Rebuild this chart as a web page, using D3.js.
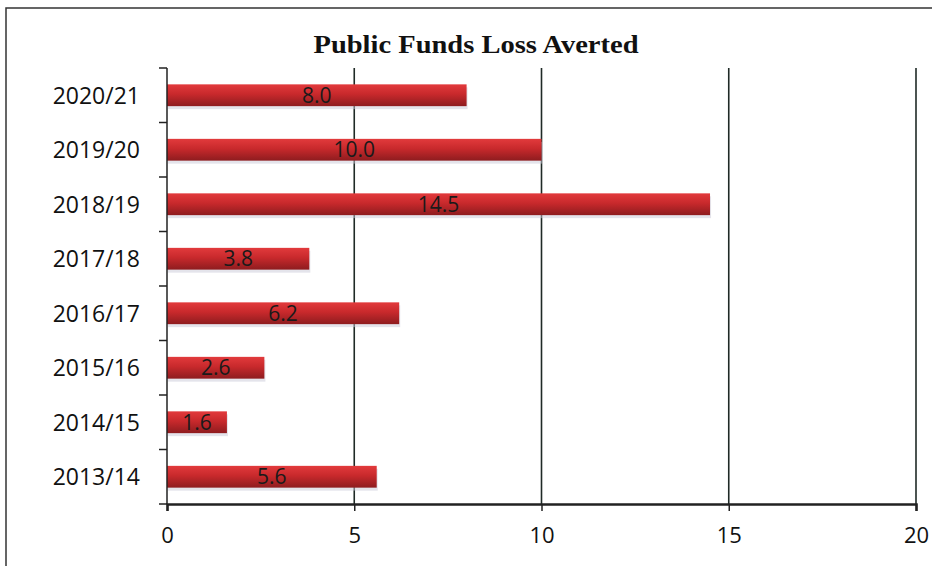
<!DOCTYPE html>
<html>
<head>
<meta charset="utf-8">
<script src="https://cdn.jsdelivr.net/npm/d3@7"></script>
<style>
  body { margin: 0; background: #fff; }
  svg { display: block; }
</style>
</head>
<body>
<div id="chart"></div>
<script>
const years = ["2020/21", "2019/20", "2018/19", "2017/18", "2016/17", "2015/16", "2014/15", "2013/14"];
const values = [8.0, 10.0, 14.5, 3.8, 6.2, 2.6, 1.6, 5.6];
const xTicks = [0, 5, 10, 15, 20];

const W = 932, H = 566;
const margin = { top: 68, right: 16, bottom: 62, left: 167 };
const innerW = W - margin.left - margin.right;
const innerH = H - margin.top - margin.bottom;

const svg = d3.select("#chart").append("svg")
  .attr("width", W)
  .attr("height", H);

// bar gradient
const defs = svg.append("defs");
const grad = defs.append("linearGradient")
  .attr("id", "barGrad")
  .attr("x1", 0).attr("y1", 0).attr("x2", 0).attr("y2", 1);
grad.append("stop").attr("offset", "0%").attr("stop-color", "#e23a3c");
grad.append("stop").attr("offset", "45%").attr("stop-color", "#c8292c");
grad.append("stop").attr("offset", "100%").attr("stop-color", "#8e1c1f");

// outer frame
svg.append("path")
  .attr("d", "M6,566 L6,8 L940,8")
  .attr("fill", "none")
  .attr("stroke", "#333")
  .attr("stroke-width", 1.5);

svg.append("text")
  .attr("x", 476)
  .attr("y", 53)
  .attr("text-anchor", "middle")
  .attr("font-family", "Liberation Serif, Times New Roman, serif")
  .attr("font-weight", "bold")
  .attr("font-size", 25)
  .attr("textLength", 325)
  .attr("lengthAdjust", "spacingAndGlyphs")
  .attr("fill", "#111")
  .text("Public Funds Loss Averted");

const g = svg.append("g").attr("transform", `translate(${margin.left},${margin.top})`);

const x = d3.scaleLinear().domain([0, 20]).range([0, innerW]);
const y = d3.scaleBand().domain(years).range([0, innerH]).paddingInner(0.6).paddingOuter(0.3);

// gridlines
g.append("g")
  .selectAll("line")
  .data(xTicks.slice(1))
  .join("line")
  .attr("x1", d => x(d)).attr("x2", d => x(d))
  .attr("y1", 0).attr("y2", innerH)
  .attr("stroke", "#1f2a26")
  .attr("stroke-width", 1.6);

// shadows
g.append("g")
  .selectAll("rect")
  .data(values)
  .join("rect")
  .attr("x", 1)
  .attr("y", (d, i) => y(years[i]) + 3)
  .attr("width", d => x(d))
  .attr("height", y.bandwidth())
  .attr("fill", "#c9c9d8")
  .attr("opacity", 0.5);

// bars
g.append("g")
  .selectAll("rect")
  .data(values)
  .join("rect")
  .attr("x", 0)
  .attr("y", (d, i) => y(years[i]))
  .attr("width", d => x(d))
  .attr("height", y.bandwidth())
  .attr("fill", "url(#barGrad)");

// value labels
g.append("g")
  .selectAll("text")
  .data(values)
  .join("text")
  .attr("x", d => x(d) / 2)
  .attr("y", (d, i) => y(years[i]) + y.bandwidth() / 2)
  .attr("dy", "0.36em")
  .attr("text-anchor", "middle")
  .attr("font-family", "Open Sans, sans-serif")
  .attr("font-size", 21)
  .attr("fill", "#1a1a1a")
  .text(d => d.toFixed(1));

// y axis: ticks at band boundaries
const yAxis = g.append("g");
yAxis.append("line")
  .attr("x1", 0).attr("x2", 0).attr("y1", 0).attr("y2", innerH)
  .attr("stroke", "#222").attr("stroke-width", 1.5);
const step = innerH / years.length;
yAxis.selectAll(".yt")
  .data(d3.range(years.length + 1))
  .join("line")
  .attr("class", "yt")
  .attr("x1", -8).attr("x2", 0)
  .attr("y1", i => i * step).attr("y2", i => i * step)
  .attr("stroke", "#222").attr("stroke-width", 1.5);
yAxis.selectAll("text")
  .data(years)
  .join("text")
  .attr("x", -27)
  .attr("y", d => y(d) + y.bandwidth() / 2)
  .attr("dy", "0.36em")
  .attr("text-anchor", "end")
  .attr("font-family", "Open Sans, sans-serif")
  .attr("font-size", 23)
  .attr("fill", "#111")
  .text(d => d);

// x axis
const xAxis = g.append("g")
  .attr("transform", `translate(0,${innerH})`)
  .call(d3.axisBottom(x).tickValues(xTicks).tickSize(7).tickPadding(16).tickFormat(d3.format("d")));
xAxis.select(".domain").attr("stroke", "#222").attr("stroke-width", 2.5);
xAxis.selectAll(".tick line").attr("stroke", "#222").attr("stroke-width", 1.5);
xAxis.selectAll(".tick text")
  .attr("font-family", "Open Sans, sans-serif")
  .attr("font-size", 22)
  .attr("fill", "#111");
</script>
</body>
</html>
